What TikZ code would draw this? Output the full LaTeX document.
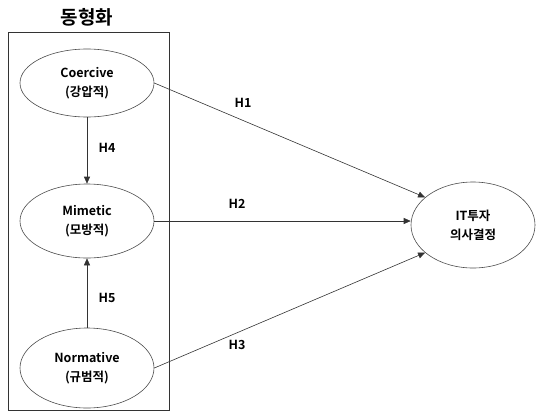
\documentclass[tikz,border=0pt]{standalone}
\usepackage{fontspec}
\setmainfont{Noto Sans CJK KR}[BoldFont={* Bold}]
\usetikzlibrary{arrows.meta,shapes.geometric}
\begin{document}
\begin{tikzpicture}[x=1pt,y=-1pt,
  ell/.style={draw=black!70, line width=0.6pt, ellipse, minimum width=134pt, minimum height=72pt, align=center, inner sep=0pt, font=\bfseries\fontsize{12.5}{19}\selectfont},
  conn/.style={draw=black!80, line width=0.6pt, -{Triangle[length=7pt,width=6pt]}},
  lab/.style={font=\bfseries\fontsize{12.5}{14}\selectfont}]
\useasboundingbox (0,0) rectangle (538,413);
\draw[black!80, line width=0.6pt] (8,32) rectangle (169,410);
\node[font=\bfseries\fontsize{19}{22}\selectfont] (title) at (87,17) {동형화};
\node[ell, minimum height=68pt] (coer) at (87,83) {Coercive\\(강압적)};
\node[ell, minimum height=74pt] (mim) at (87,221) {Mimetic\\(모방적)};
\node[ell, minimum height=80pt] (norm) at (87,368) {Normative\\(규범적)};
\node[ell, minimum width=124pt, minimum height=86pt] (it) at (473,225) {IT투자\\의사결정};
\draw[conn] (coer.east) -- (it.150);
\draw[conn] (mim.east) -- (mim.east -| it.west);
\draw[conn] (norm.east) -- (it.210);
\draw[conn] (coer.south) -- (mim.north);
\draw[conn] (norm.north) -- (mim.south);
\node[lab] (h1) at (243,103) {H1};
\node[lab] (h2) at (237,204) {H2};
\node[lab] (h3) at (237,345) {H3};
\node[lab] (h4) at (107,148) {H4};
\node[lab] (h5) at (107,298) {H5};
\end{tikzpicture}
\end{document}
